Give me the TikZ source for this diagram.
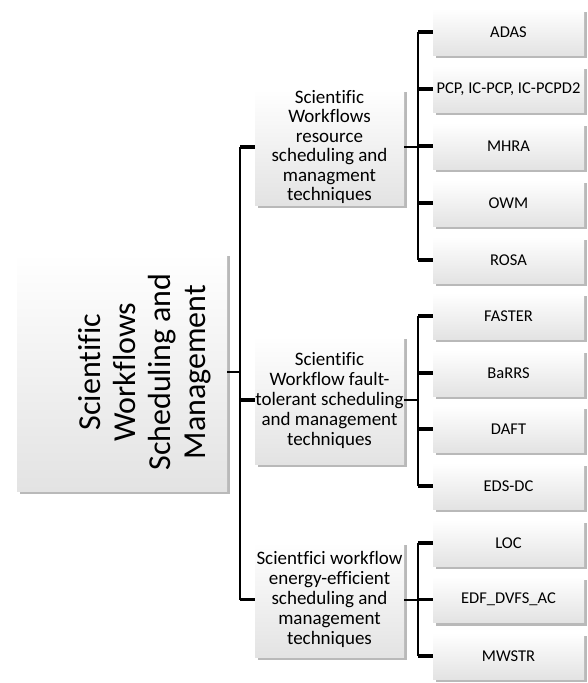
\documentclass[tikz,border=0pt]{standalone}
\usepackage{fontspec}
\setmainfont{Carlito}[Ligatures=CommonOff]
\usetikzlibrary{shadows}

\tikzset{
  card/.style={draw=none, top color=white, bottom color=black!11,
    drop shadow={shadow xshift=2.5pt, shadow yshift=-3pt, opacity=0.5, fill=black!55},
    inner sep=0pt, align=center},
  rootbox/.style={card, minimum width=210pt, minimum height=238pt},
  roottextstyle/.style={rotate=90, align=center, inner sep=0pt,
    font=\fontsize{32}{35}\selectfont},
  midbox/.style={card, minimum width=149pt, font=\fontsize{19}{20}\selectfont},
  leafbox/.style={card, minimum width=151pt, minimum height=46pt,
    font=\fontsize{16.5}{19}\selectfont},
  link/.style={line width=2pt},
  stub/.style={line width=3.5pt},
}

\begin{document}
\begin{tikzpicture}[x=1pt, y=-1pt]
\useasboundingbox (0,0) rectangle (588,683);

% root
\node[rootbox] (root) at (122,372) {};
\node[roottextstyle] (roottext) at (145,372)
  {Scientific\\Workflows\\Scheduling and\\Management};

% second level
\node[midbox, minimum height=116pt, font=\fontsize{19}{19.5}\selectfont] (m1) at (329.5,147)
  {Scientific\\Workflows\\resource\\scheduling and\\managment\\techniques};
\node[midbox, minimum height=128pt] (m2) at (329.5,400)
  {Scientific\\Workflow fault-\\tolerant scheduling\\and management\\techniques};
\node[midbox, minimum height=115pt] (m3) at (329.5,599.5)
  {Scientfici workflow\\energy-efficient\\scheduling and\\management\\techniques};

% resource scheduling techniques
\node[leafbox] (a1) at (508.5,32)  {ADAS};
\node[leafbox] (a2) at (508.5,89)  {PCP, IC-PCP, IC-PCPD2};
\node[leafbox] (a3) at (508.5,146) {MHRA};
\node[leafbox] (a4) at (508.5,203) {OWM};
\node[leafbox] (a5) at (508.5,260) {ROSA};

% fault-tolerant techniques
\node[leafbox] (f1) at (508.5,316) {FASTER};
\node[leafbox] (f2) at (508.5,373) {BaRRS};
\node[leafbox] (f3) at (508.5,429) {DAFT};
\node[leafbox] (f4) at (508.5,486) {EDS-DC};

% energy-efficient techniques
\node[leafbox] (e1) at (508.5,543) {LOC};
\node[leafbox] (e2) at (508.5,599.5) {EDF\_DVFS\_AC};
\node[leafbox] (e3) at (508.5,656) {MWSTR};

% bus lines
\coordinate (trunk) at ([xshift=-15pt]m1.west);
\coordinate (ba) at ([xshift=-15pt]a1.west);
\coordinate (bf) at ([xshift=-15pt]f1.west);
\coordinate (be) at ([xshift=-15pt]e1.west);

% root to second level
\draw[link] (m1.west -| trunk) -- (m3.west -| trunk);
\draw[link] (root.east) -- (root.east -| trunk);
\foreach \n in {m1,m2,m3} \draw[stub] (\n.west) -- (\n.west -| trunk);

% second level to techniques
\draw[link] (a1.west -| ba) -- (a5.west -| ba);
\draw[link] (m1.east) -- (m1.east -| ba);
\foreach \n in {a1,a2,a3,a4,a5} \draw[stub] (\n.west) -- (\n.west -| ba);

\draw[link] (f1.west -| bf) -- (f4.west -| bf);
\draw[link] (m2.east) -- (m2.east -| bf);
\foreach \n in {f1,f2,f3,f4} \draw[stub] (\n.west) -- (\n.west -| bf);

\draw[link] (e1.west -| be) -- (e3.west -| be);
\draw[link] (m3.east) -- (m3.east -| be);
\foreach \n in {e1,e2,e3} \draw[stub] (\n.west) -- (\n.west -| be);
\end{tikzpicture}
\end{document}
